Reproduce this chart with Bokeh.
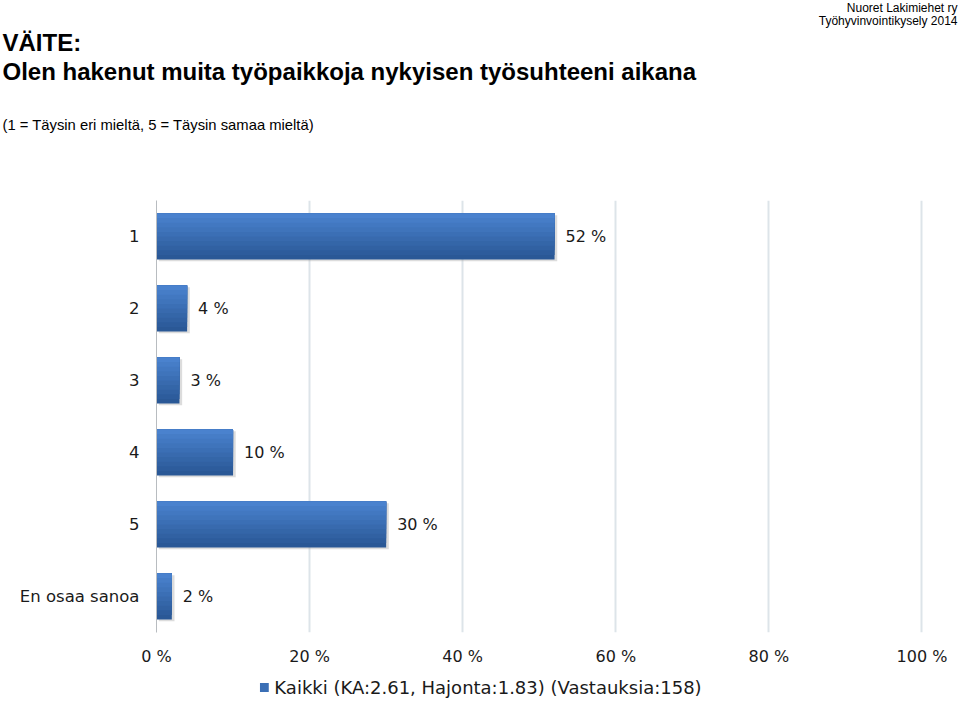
from bokeh.plotting import figure
from bokeh.layouts import column
from bokeh.models import (ColumnDataSource, FactorRange, Label, Legend, LegendItem,
                          Range1d, FixedTicker, CustomJSTickFormatter)
from bokeh.transform import dodge
from bokeh.core.properties import value
from bokeh.embed import file_html
from bokeh.resources import INLINE

# ---- data ----
categories = ["1", "2", "3", "4", "5", "En osaa sanoa"]
percents = [52, 4, 3, 10, 30, 2]
value_labels = ["52 %", "4 %", "3 %", "10 %", "30 %", "2 %"]
x_ticks = [0, 20, 40, 60, 80, 100]
series_name = "Kaikki (KA:2.61, Hajonta:1.83) (Vastauksia:158)"
title_1 = "VÄITE:"
title_2 = "Olen hakenut muita työpaikkoja nykyisen työsuhteeni aikana"
subtitle = "(1 = Täysin eri mieltä, 5 = Täysin samaa mieltä)"
org_1 = "Nuoret Lakimiehet ry"
org_2 = "Työhyvinvointikysely 2014"

W = 960
HEAD_H, MAIN_H, LEG_H = 190, 484, 26
TXT = "#1a1a1a"
AX_FONT = "DejaVu Sans"
HD_FONT = "Liberation Sans"

# ---------------- header ----------------
hd = figure(width=W, height=HEAD_H, output_backend="svg", toolbar_location=None,
            x_range=Range1d(0, W), y_range=Range1d(HEAD_H, 0),
            min_border=0, x_axis_type=None, y_axis_type=None)
hd.frame_align = False
hd.outline_line_color = None
hd.xgrid.visible = False
hd.ygrid.visible = False

def lab(txt, x, y, size, bold=False, align="left"):
    hd.add_layout(Label(x=x, y=y, text=txt, text_font=HD_FONT, text_font_size=size,
                        text_font_style="bold" if bold else "normal",
                        text_align=align, text_baseline="middle", text_color="#000000"))

lab(org_1, 957, 7, "12px", align="right")
lab(org_2, 957, 20, "12px", align="right")
lab(title_1, 2, 42, "24px", bold=True)
lab(title_2, 2, 71, "24px", bold=True)
lab(subtitle, 2, 124, "14.8px")

# ---------------- main chart ----------------
src = ColumnDataSource(dict(cat=categories, pct=percents, lab=value_labels))

p = figure(width=W, height=MAIN_H, output_backend="svg", toolbar_location=None,
           y_range=FactorRange(factors=list(reversed(categories))),
           x_range=Range1d(0, 100.2),
           min_border_left=156, min_border_right=37, min_border_top=10,
           min_border_bottom=42)
p.frame_align = False
p.outline_line_color = None

BAR_H = 0.64
# soft shadow
p.hbar(y=dodge("cat", -0.025, range=p.y_range), left=0.3, right=dodge("pct", 0.35),
       height=BAR_H, source=src, fill_color="#9a9a9a", fill_alpha=0.35, line_color=None)

# gradient bars built from overlapping layers (dark bottom -> light top)
N = 10
dark = (0x2a, 0x58, 0x96)
light = (0x4a, 0x82, 0xce)
renderers = []
for i in range(N):
    t = i / (N - 1)
    c = tuple(int(dark[k] + (light[k] - dark[k]) * t) for k in range(3))
    col = "#%02x%02x%02x" % c
    bottom = -BAR_H / 2 + i * BAR_H / N
    top = BAR_H / 2
    r = p.hbar(y=dodge("cat", (bottom + top) / 2, range=p.y_range), left=0, right="pct",
               height=top - bottom, source=src, fill_color=col, line_color=None)
    renderers.append(r)

p.text(x="pct", y="cat", text="lab", source=src, x_offset=11,
       text_baseline="middle", text_align="left",
       text_font=value(AX_FONT), text_font_size="16px", text_color=TXT)

p.xaxis.ticker = FixedTicker(ticks=x_ticks)
p.xaxis.formatter = CustomJSTickFormatter(code="return tick + ' %';")
p.xaxis.axis_line_color = None
p.xaxis.major_tick_line_color = None
p.xaxis.minor_tick_line_color = None
p.xaxis.major_label_standoff = 8
p.xaxis.major_label_text_font = AX_FONT
p.xaxis.major_label_text_font_size = "16px"
p.xaxis.major_label_text_color = TXT

p.yaxis.axis_line_color = "#b8bcc0"
p.yaxis.major_tick_line_color = None
p.yaxis.minor_tick_line_color = None
p.yaxis.major_label_standoff = 11
p.yaxis.major_label_text_font = AX_FONT
p.yaxis.major_label_text_font_size = "16.5px"
p.yaxis.major_label_text_color = TXT

p.xgrid.grid_line_color = "#dde4e9"
p.xgrid.grid_line_width = 2
p.ygrid.grid_line_color = None

# ---------------- legend strip ----------------
lg = figure(width=W, height=LEG_H, output_backend="svg", toolbar_location=None,
            x_range=Range1d(0, 1), y_range=Range1d(0, 1), min_border=0,
            x_axis_type=None, y_axis_type=None)
lg.frame_align = False
lg.outline_line_color = None
lg.xgrid.visible = False
lg.ygrid.visible = False
mid = renderers[N // 2].glyph.fill_color
dummy = lg.hbar(y=[-10], left=[0], right=[1], height=1, fill_color=mid, line_color=None)
legend = Legend(items=[LegendItem(label=series_name, renderers=[dummy])],
                location="center", orientation="horizontal",
                border_line_color=None, background_fill_alpha=0,
                glyph_width=11, glyph_height=11, label_text_font=AX_FONT,
                label_text_font_size="18px", label_text_color=TXT,
                padding=0, margin=0, label_standoff=5)
lg.add_layout(legend)

layout = column(hd, p, lg, spacing=0)
open("out.html", "w").write(file_html(layout, INLINE))
